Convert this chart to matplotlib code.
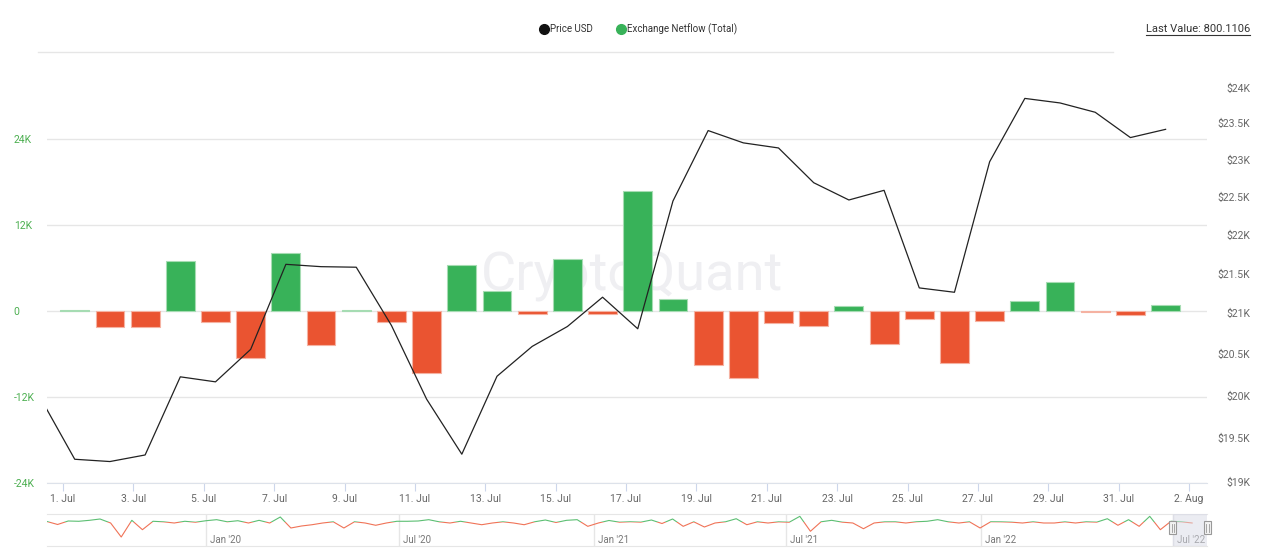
import matplotlib
matplotlib.use("Agg")
import matplotlib.pyplot as plt
import matplotlib.dates as mdates
import matplotlib.transforms as mtransforms
from matplotlib.lines import Line2D
from matplotlib.patches import Rectangle
from matplotlib.ticker import FixedLocator, NullLocator
import pandas as pd

plt.rcParams["font.family"] = ["Roboto", "DejaVu Sans"]

# ── data ──────────────────────────────────────────────────────────────────────
BAR_DAYS = pd.date_range("2022-07-01", "2022-08-01", freq="D")
NETFLOW = [
    200, -2200, -2200, 7000, -1600, -6500, 8100, -4800, 200, -1600,
    -8700, 6400, 2800, -350, 7200, -450, 16800, 1700, -7600, -9400,
    -1700, -2100, 750, -4600, -1100, -7300, -1400, 1450, 4000, -200,
    -600, 800.1106,
]

PRICE_DAYS = pd.date_range("2022-06-30", "2022-08-01", freq="D")
PRICE = [
    19990, 19259, 19233, 19308, 20223, 20163, 20555, 21617, 21587, 21580,
    20848, 19957, 19317, 20230, 20591, 20835, 21200, 20807, 22443, 23400,
    23230, 23160, 22688, 22457, 22586, 21317, 21262, 22972, 23850, 23786,
    23655, 23303, 23417,
]

# navigator (whole history, thousands of BTC, every 10 days)
NAV_VALUES = [
    1.2, -6.2, 2.5, 1.8, 4.2, 7.5, -2.5, -37.5, 4.2, -19.2,
    1.8, 0.4, -2.5, 1.8, -0.6, 3.2, 5.8, 0.5, 3.2, -2.5,
    4.2, -2.5, 12.5, -15, -10, -6.8, -2.5, 0.5, -15, 0.6,
    -2.5, -8.2, -2.5, 1.8, 1.8, 2.5, 5.8, 0.4, -2.5, 1.8,
    -2.5, -6.8, -2.5, 0.5, -2.5, -6.8, 0.6, 5, -1.2, 4.2,
    5.8, -10.8, -2.5, 3.8, -0.5, 0.6, -0.4, 5, -3.8, 7.5,
    -10.8, 0.5, -12.5, -2.5, 0.6, 8.2, -6.8, 0.5, -2.5, 0.4,
    -0.6, 14.2, -23.2, 0.5, 4.2, -0.4, -2.5, -16.8, -2.5, 0.4,
    0.5, -2.5, 0.6, 1.8, 5.8, 0.4, -2.5, 0.5, -15, 0.6,
    0.4, -0.5, -2.5, 0.5, -2.5, -2.5, 0.4, -2.5, 0.5, -0.4,
    8.2, -8.2, 5.8, -10.8, 14.2, -19.2, 1.8, 0.5, -2.5,
]
NAV_DATES = pd.date_range("2019-08-04", periods=len(NAV_VALUES), freq="10D")
NAV_MARKS = ["2020-01-01", "2020-07-01", "2021-01-01", "2021-07-01",
             "2022-01-01", "2022-07-01"]
NAV_LABELS = ["Jan '20", "Jul '20", "Jan '21", "Jul '21", "Jan '22", "Jul '22"]

X_TICKS = pd.date_range("2022-07-01", "2022-08-02", freq="2D")
LEFT_TICKS = [-24000, -12000, 0, 12000, 24000]
RIGHT_TICKS = [19000, 19500, 20000, 20500, 21000, 21500,
               22000, 22500, 23000, 23500, 24000]

# ── style ─────────────────────────────────────────────────────────────────────
GREEN = "#38b259"
RED = "#ea5431"
GREEN_EDGE = "#a6dcb3"
RED_EDGE = "#f5b2a2"
GRID = "#e6e6e6"
W, H = 1267, 551
SHIFT = pd.Timedelta(hours=8)

fig = plt.figure(figsize=(W / 100, H / 100), dpi=100)
fig.patch.set_facecolor("white")

ax = fig.add_axes([47 / W, 68 / H, 1160 / W, 431 / H])
ax2 = ax.twinx()

x0 = mdates.date2num(pd.Timestamp("2022-07-01")) - 0.455
x1 = mdates.date2num(pd.Timestamp("2022-07-01")) + 32.51

# watermark
ax.text(0.504, 0.478, "CryptoQuant", transform=ax.transAxes, ha="center",
        va="center", fontsize=39, color="#efeff2", zorder=0)

bar_x = BAR_DAYS + SHIFT
ax.bar(bar_x, NETFLOW, width=0.82,
       color=[GREEN if v >= 0 else RED for v in NETFLOW],
       edgecolor=[GREEN_EDGE if v >= 0 else RED_EDGE for v in NETFLOW],
       linewidth=0.8, zorder=2)

ax.set_ylim(-24000, 36140)
ax.set_xlim(x0, x1)
ax.set_yticks(LEFT_TICKS)
ax.set_yticklabels(["-24K", "-12K", "0", "12K", "24K"])
for lbl in ax.get_yticklabels():
    lbl.set_horizontalalignment("left")
ax.tick_params(axis="y", length=0, labelsize=7.5, labelcolor="#4caf50", pad=24)
ax.grid(axis="y", color=GRID, linewidth=1, zorder=1)
ax.set_axisbelow(True)

ax.set_xticks(X_TICKS)
ax.set_xticklabels([f"{d.day}. {d.strftime('%b')}" for d in X_TICKS])
ax.tick_params(axis="x", length=6, color="#ccd6eb", labelsize=7.5,
               labelcolor="#666666", pad=2)

for s in ["top", "left", "right"]:
    ax.spines[s].set_visible(False)
    ax2.spines[s].set_visible(False)
ax.spines["bottom"].set_color("#dde2ea")
ax2.spines["bottom"].set_visible(False)

ax2.plot(PRICE_DAYS + SHIFT, PRICE, color="#222222", linewidth=0.9, zorder=3)
ax2.set_yscale("log")
ax2.set_ylim(18990, 24515)
ax2.yaxis.set_major_locator(FixedLocator(RIGHT_TICKS))
ax2.yaxis.set_minor_locator(NullLocator())
ax2.set_yticklabels([f"${v / 1000:g}K" for v in RIGHT_TICKS])
for lbl in ax2.get_yticklabels():
    lbl.set_horizontalalignment("right")
ax2.tick_params(axis="y", which="both", length=0, labelsize=7.5,
                labelcolor="#666666", pad=31)
ax2.set_xlim(x0, x1)

# ── header: legend, separator, last value ─────────────────────────────────────
handles = [
    Line2D([], [], marker="o", linestyle="none", markersize=7,
           markerfacecolor="#111111", markeredgecolor="#111111"),
    Line2D([], [], marker="o", linestyle="none", markersize=7,
           markerfacecolor=GREEN, markeredgecolor=GREEN),
]
fig.legend(handles, ["Price USD", "Exchange Netflow (Total)"], ncol=2,
           loc="center", bbox_to_anchor=(638 / W, 1 - 29 / H), frameon=False,
           fontsize=7, handletextpad=0.1, columnspacing=2.4, handlelength=1.0,
           labelcolor="#333333")
fig.add_artist(Line2D([38 / W, 1113 / W], [1 - 52 / H, 1 - 52 / H],
                      transform=fig.transFigure, color=GRID, linewidth=1))
last = fig.text(1250 / W, 1 - 29 / H, "Last Value: 800.1106", ha="right",
                va="center", fontsize=8, color="#333333")

# ── navigator ─────────────────────────────────────────────────────────────────
nav = fig.add_axes([47 / W, 5 / H, 1160 / W, 32 / H])
nav.set_xlim(mdates.date2num(pd.Timestamp("2019-08-04")),
             mdates.date2num(pd.Timestamp("2022-08-02")))
nav.set_ylim(-60, 20)
nav.set_xticks([])
nav.set_yticks([])
for s in ["left", "right"]:
    nav.spines[s].set_visible(False)
for s in ["top", "bottom"]:
    nav.spines[s].set_color(GRID)

xmin, xmax = nav.get_xlim()
up = nav.plot(NAV_DATES, NAV_VALUES, color="#5cbf73", linewidth=0.8)[0]
dn = nav.plot(NAV_DATES, NAV_VALUES, color="#f07357", linewidth=0.8)[0]
up.set_clip_path(Rectangle((xmin, 0), xmax - xmin, 100, transform=nav.transData))
dn.set_clip_path(Rectangle((xmin, -100), xmax - xmin, 100, transform=nav.transData))

blend = mtransforms.blended_transform_factory(nav.transData, nav.transAxes)
for d, lab in zip(NAV_MARKS, NAV_LABELS):
    nav.axvline(pd.Timestamp(d), color=GRID, linewidth=1, zorder=0)
    nav.text(mdates.date2num(pd.Timestamp(d)) + 3.5, 0.19, lab, transform=blend,
             fontsize=7, color="#777777", va="center", ha="left")

nav.axvspan(x0, x1, color="#d9dbe6", alpha=0.5, zorder=3)
for xe in (x0, x1):
    nav.add_patch(Rectangle((xe - 3.3, 0.36), 6.6, 0.42, transform=blend,
                            facecolor="#f2f2f2", edgecolor="#999999",
                            linewidth=0.8, zorder=4, clip_on=False))
    nav.add_line(Line2D([xe - 1, xe - 1], [0.45, 0.69], transform=blend,
                        color="#999999", linewidth=0.6, zorder=5, clip_on=False))
    nav.add_line(Line2D([xe + 1, xe + 1], [0.45, 0.69], transform=blend,
                        color="#999999", linewidth=0.6, zorder=5, clip_on=False))

# underline for last value
fig.canvas.draw()
bb = last.get_window_extent()
fig.add_artist(Line2D([bb.x0, bb.x1], [bb.y0 - 0.5, bb.y0 - 0.5],
                      transform=mtransforms.IdentityTransform(),
                      color="#333333", linewidth=0.8))

fig.savefig("out.png", dpi=100, facecolor="white")
